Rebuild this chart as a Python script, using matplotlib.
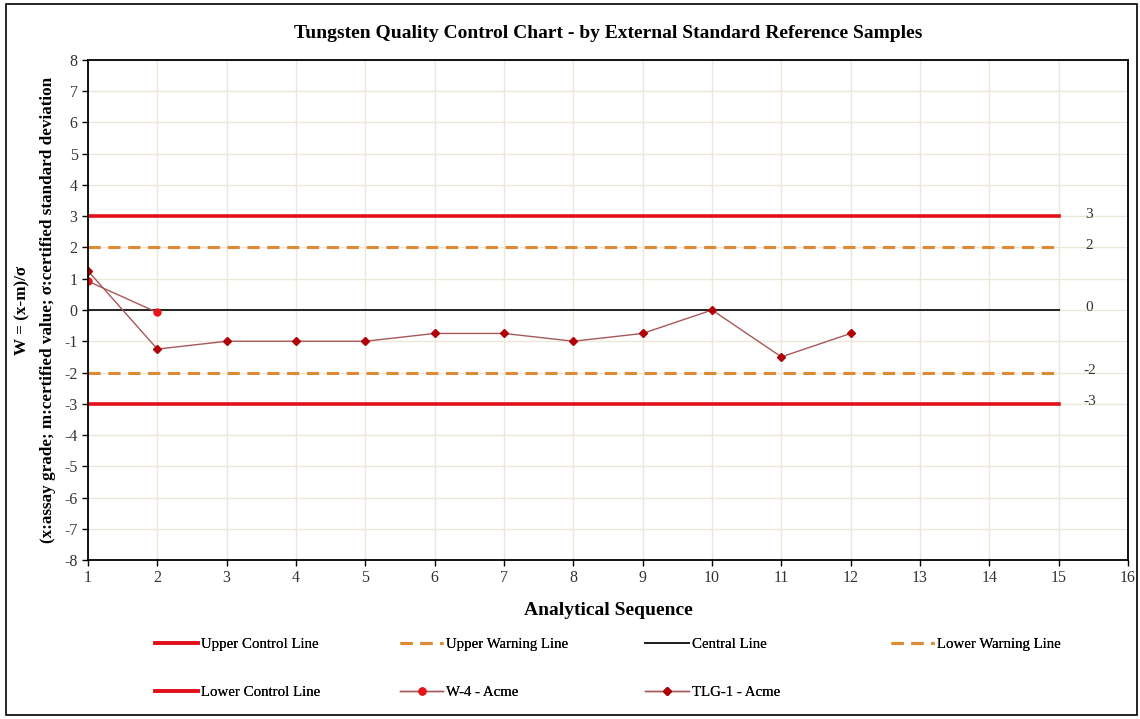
import matplotlib
matplotlib.use("Agg")
import matplotlib.pyplot as plt
from matplotlib.patches import Rectangle

plt.rcParams['font.family'] = ['Liberation Serif', 'DejaVu Serif']
plt.rcParams['axes.unicode_minus'] = False

# Limits in units of standard deviation
limit_x = [1, 15]
upper_control = 3
upper_warning = 2
central = 0
lower_warning = -2
lower_control = -3

# Reference sample results
w4_seq = [1, 2]
w4_w = [0.92, -0.08]
tlg1_seq = [1, 2, 3, 4, 5, 6, 7, 8, 9, 10, 11, 12]
tlg1_w = [1.25, -1.25, -1.0, -1.0, -1.0, -0.75, -0.75, -1.0, -0.75, 0.0, -1.5, -0.75]

x_ticks = list(range(1, 17))
y_ticks = list(range(-8, 9))

RED = '#e3101c'
ORANGE = '#de8a35'
SERIES = '#a65858'

fig = plt.figure(figsize=(11.4, 7.19), dpi=100)
fig.patches.append(Rectangle((0.005, 0.006), 0.992, 0.988, transform=fig.transFigure,
                             fill=False, edgecolor='black', linewidth=1.2))
ax = fig.add_axes([0.0772, 0.2211, 0.9123, 0.6955])

ucl, = ax.plot(limit_x, [upper_control] * 2, color=RED, lw=2.6, label='Upper Control Line')
uwl, = ax.plot(limit_x, [upper_warning] * 2, color=ORANGE, lw=2.2, ls=(0, (4, 2.5)), label='Upper Warning Line')
cl, = ax.plot(limit_x, [central] * 2, color='#222222', lw=1.4, label='Central Line')
lwl, = ax.plot(limit_x, [lower_warning] * 2, color=ORANGE, lw=2.2, ls=(0, (4, 2.5)), label='Lower Warning Line')
lcl, = ax.plot(limit_x, [lower_control] * 2, color=RED, lw=2.6, label='Lower Control Line')
w4, = ax.plot(w4_seq, w4_w, color=SERIES, lw=1.0, marker='o', ms=5,
              mfc='#e8141c', mec='#e8141c', label='W-4 - Acme')
tlg, = ax.plot(tlg1_seq, tlg1_w, color=SERIES, lw=1.0, marker='D', ms=4,
               mfc='#b00008', mec='#b00008', label='TLG-1 - Acme')

for v in [upper_control, upper_warning, central, lower_warning, lower_control]:
    ax.annotate(f'{v}', xy=(limit_x[-1], v), xytext=(22, 1.5), textcoords='offset points',
                ha='center', va='center', fontsize=11, color='#333333')

ax.set_xlim(1, 16)
ax.set_ylim(-8, 8)
ax.set_xticks(x_ticks)
ax.set_yticks(y_ticks)
ax.grid(True, color='#ebe8da', lw=1.0)
ax.set_axisbelow(True)
for s in ax.spines.values():
    s.set_color('black')
    s.set_linewidth(1.3)
ax.tick_params(labelsize=11.5, labelcolor='#333333', length=4, direction='out', width=1)

ax.set_title('Tungsten Quality Control Chart - by External Standard Reference Samples',
             fontsize=14, fontweight='bold', pad=16)
ax.set_xlabel('Analytical Sequence', fontsize=14, fontweight='bold', labelpad=11)
ax.set_ylabel('W = (x-m)/σ\n(x:assay grade; m:certified value; σ:certified standard deviation',
              fontsize=12.3, fontweight='bold', labelpad=6, linespacing=1.75)

columns = [[ucl, lcl], [uwl, w4], [cl, tlg], [lwl]]
col_x = [0.131, 0.346, 0.561, 0.776]
for handles, x in zip(columns, col_x):
    leg = fig.legend(handles=handles, loc='upper left', bbox_to_anchor=(x, 0.121),
                     frameon=False, fontsize=10.7, handlelength=2.9, handletextpad=0.2,
                     labelspacing=2.3, borderaxespad=0)
    fig.add_artist(leg)

fig.savefig('out.png', dpi=100)
